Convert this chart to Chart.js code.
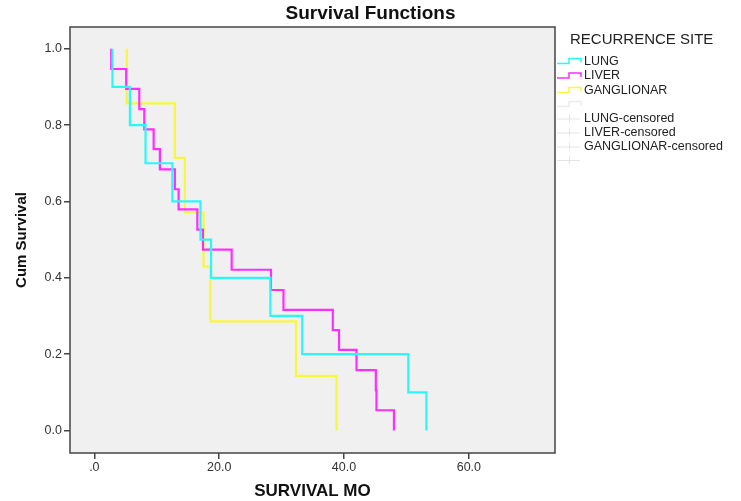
<!DOCTYPE html>
<html><head><meta charset="utf-8">
<script src="https://cdn.jsdelivr.net/npm/chart.js@4.4.1/dist/chart.umd.min.js"></script>
<style>html,body{margin:0;padding:0;background:#fff}#wrap{width:741px;height:501px;position:relative}</style>
</head><body><div id="wrap"><canvas id="c" width="741" height="501"></canvas></div>
<script>
// ---- data ----
const seriesNames = ['LUNG', 'LIVER', 'GANGLIONAR'];
const censoredNames = ['LUNG-censored', 'LIVER-censored', 'GANGLIONAR-censored'];
const lungTimes = [2.9, 5.7, 8.2, 12.5, 17.0, 18.7, 28.2, 33.3, 50.3, 53.2];
const lungSurv  = [0.9, 0.8, 0.7, 0.6, 0.5, 0.4, 0.3, 0.2, 0.1, 0.0];
const liverTimes = [2.7, 5.1, 7.2, 8.0, 9.5, 10.5, 12.9, 13.5, 16.5, 17.4, 22.0, 28.3, 30.3, 38.2, 39.2, 42.0, 45.1, 45.2, 48.0];
const liverSurv  = [0.947, 0.895, 0.842, 0.789, 0.737, 0.684, 0.632, 0.579, 0.526, 0.474, 0.421, 0.368, 0.316, 0.263, 0.211, 0.158, 0.105, 0.053, 0.0];
const gangTimes = [5.2, 12.9, 14.5, 17.5, 18.6, 32.3, 38.8];
const gangSurv  = [0.857, 0.714, 0.571, 0.429, 0.286, 0.143, 0.0];
const xTickValues = [0, 20, 40, 60];
const xTickLabels = ['.0', '20.0', '40.0', '60.0'];
const yTickValues = [0, 0.2, 0.4, 0.6, 0.8, 1.0];
const yTickLabels = ['0.0', '0.2', '0.4', '0.6', '0.8', '1.0'];
const chartTitle = 'Survival Functions';
const xTitle = 'SURVIVAL MO';
const yTitle = 'Cum Survival';
const legendTitle = 'RECURRENCE SITE';

// ---- styles ----
const seriesColors = ['#2ef6f6', '#ff2eff', '#f7f73c'];
const FONT = '"Liberation Sans", Arial, sans-serif';

function kmPoints(times, surv) {
  const pts = [{x: times[0], y: 1}];
  for (let i = 1; i < times.length; i++) pts.push({x: times[i], y: surv[i - 1]});
  pts.push({x: times[times.length - 1], y: surv[surv.length - 1]});
  return pts;
}
const seriesData = [kmPoints(lungTimes, lungSurv), kmPoints(liverTimes, liverSurv), kmPoints(gangTimes, gangSurv)];

const framePlugin = {
  id: 'frame',
  beforeDraw(chart) {
    const {ctx, chartArea: a} = chart;
    ctx.save();
    ctx.fillStyle = '#ffffff';
    ctx.fillRect(0, 0, chart.width, chart.height);
    ctx.fillStyle = '#f0f0f0';
    ctx.fillRect(a.left, a.top, a.right - a.left, a.bottom - a.top);
    ctx.restore();
  },
  afterDraw(chart) {
    const {ctx, chartArea: a} = chart;
    ctx.save();
    ctx.strokeStyle = '#444';
    ctx.lineWidth = 1.5;
    ctx.strokeRect(a.left, a.top, a.right - a.left, a.bottom - a.top);
    // main title
    ctx.fillStyle = '#111';
    ctx.font = 'bold 19px ' + FONT;
    ctx.textAlign = 'center';
    ctx.textBaseline = 'middle';
    ctx.fillText(chartTitle, chart.width / 2, 14);
    // legend
    ctx.textAlign = 'left';
    ctx.fillStyle = '#222';
    ctx.font = '15px ' + FONT;
    ctx.fillText(legendTitle, 570, 40);
    ctx.font = '12.5px ' + FONT;
    const gx = 557;
    const rows = [61, 75.5, 90];
    const step = (y, color) => {
      ctx.strokeStyle = color; ctx.lineWidth = 1.5;
      ctx.beginPath();
      ctx.moveTo(gx, y + 2.5); ctx.lineTo(gx + 12, y + 2.5); ctx.lineTo(gx + 12, y - 2.5);
      ctx.lineTo(gx + 24, y - 2.5); ctx.lineTo(gx + 24, y + 1.5);
      ctx.stroke();
    };
    const cross = (y) => {
      ctx.strokeStyle = '#e4e4e4'; ctx.lineWidth = 1;
      ctx.beginPath();
      ctx.moveTo(gx, y + 0.5); ctx.lineTo(gx + 23, y + 0.5);
      ctx.moveTo(gx + 12.5, y - 4); ctx.lineTo(gx + 12.5, y + 4);
      ctx.stroke();
    };
    seriesNames.forEach((n, i) => {
      step(rows[i], seriesColors[i]);
      ctx.fillStyle = '#222';
      ctx.fillText(n, 584, rows[i] + 0.5);
    });
    step(104, '#ececec');
    const crow = [118.5, 132.5, 146.5];
    censoredNames.forEach((n, i) => {
      cross(crow[i]);
      ctx.fillStyle = '#222';
      ctx.fillText(n, 584, crow[i] + 0.5);
    });
    cross(160);
    ctx.restore();
  }
};

new Chart(document.getElementById('c'), {
  type: 'scatter',
  data: {
    datasets: seriesData.map((d, i) => ({
      label: seriesNames[i],
      data: d,
      showLine: true,
      stepped: 'after',
      borderColor: seriesColors[i],
      backgroundColor: seriesColors[i],
      borderWidth: 2.2,
      pointRadius: 0,
      pointHoverRadius: 0,
      fill: false
    }))
  },
  options: {
    responsive: false,
    animation: false,
    events: [],
    layout: {padding: {top: 27, right: 186, left: 0, bottom: 0}},
    plugins: {legend: {display: false}, title: {display: false}, tooltip: {enabled: false}},
    scales: {
      x: {
        type: 'linear', min: -3.9, max: 73.8,
        afterFit: s => { s.height = 48; },
        afterBuildTicks: s => { s.ticks = xTickValues.map(v => ({value: v})); },
        ticks: {
          autoSkip: false, maxRotation: 0, padding: 1, color: '#333',
          font: {family: FONT, size: 12.5},
          callback: (v, i) => xTickLabels[i]
        },
        grid: {drawOnChartArea: false, drawTicks: true, tickLength: 6, color: '#444', lineWidth: 1.5},
        border: {display: false},
        title: {display: true, text: xTitle, color: '#111', font: {family: FONT, size: 17, weight: 'bold'}, padding: {top: 0, bottom: -1}}
      },
      y: {
        type: 'linear', min: -0.059, max: 1.057,
        afterFit: s => { s.width = 70; },
        afterBuildTicks: s => { s.ticks = yTickValues.map(v => ({value: v})); },
        ticks: {
          autoSkip: false, padding: 2, color: '#333',
          font: {family: FONT, size: 12.5},
          callback: (v, i) => yTickLabels[i]
        },
        grid: {drawOnChartArea: false, drawTicks: true, tickLength: 6, color: '#444', lineWidth: 1.5},
        border: {display: false},
        title: {display: true, text: yTitle, color: '#111', font: {family: FONT, size: 15, weight: 'bold'}, padding: {top: 13, bottom: 0}}
      }
    }
  },
  plugins: [framePlugin]
});
</script>
</body></html>
